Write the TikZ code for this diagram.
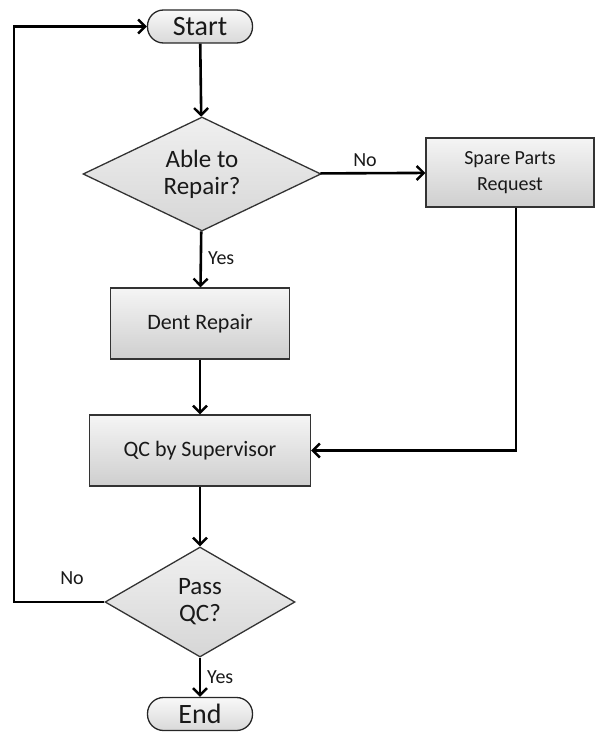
\documentclass[tikz,border=0pt]{standalone}
\usepackage{fontspec}
\setmainfont{Carlito}
\usetikzlibrary{shapes.geometric,arrows.meta,calc}
\begin{document}
\begin{tikzpicture}[x=1pt,y=-1pt,
  every node/.style={text=black!90},
  flow/.style={line width=2.6pt,black,-{Straight Barb[length=7pt,width=14pt,line width=2.4pt]}},
  proc/.style={rectangle,draw=black!80,line width=1.3pt,top color=gray!8,bottom color=gray!38,
    align=center,inner sep=0pt},
  decide/.style={diamond,shape aspect=2,draw=black!80,line width=1.3pt,top color=gray!12,bottom color=gray!32,
    align=center,inner sep=0pt,font=\fontsize{25}{27}\selectfont},
  term/.style={rectangle,rounded corners=16pt,draw=black!85,line width=1.3pt,top color=gray!5,bottom color=gray!30,
    minimum width=105pt,minimum height=33pt,inner sep=0pt,font=\fontsize{28}{30}\selectfont},
  lbl/.style={font=\fontsize{20}{22}\selectfont,inner sep=0pt}
]
\useasboundingbox (0,0) rectangle (595,733);

% shapes
\node[term] (start) at (200,26.5) {Start};
\node[decide,minimum width=238pt,minimum height=114pt] (able) at (202,174) {Able to\\Repair?};
\node[proc,minimum width=168pt,minimum height=69pt,font=\fontsize{20}{26}\selectfont] (spare) at (510,172.5) {Spare Parts\\Request};
\node[proc,minimum width=179pt,minimum height=71pt,font=\fontsize{22}{24}\selectfont] (dent) at (200,323.5) {Dent Repair};
\node[proc,minimum width=221pt,minimum height=71pt,font=\fontsize{22}{24}\selectfont] (qc) at (200,450.5) {QC by Supervisor};
\node[decide,minimum width=190pt,minimum height=110pt] (pass) at (200,602) {Pass\\QC?};
\node[term] (end) at (200,714) {End};

% return path from the final check
\coordinate (loop) at (14,602);

% connectors
\draw[flow] (start) -- (able);
\draw[flow] (able) -- (spare);
\draw[flow] (able) -- (dent);
\draw[flow] (dent) -- (qc);
\draw[flow] ([xshift=6pt]spare.south) |- (qc.east);
\draw[flow] (qc) -- (pass);
\draw[flow] (pass) -- (end);
\draw[flow] (pass.west) -- (loop) |- (start.west);

% branch labels
\node[lbl] (no1) at (365,160) {No};
\node[lbl,anchor=west] (yes1) at (208,258) {Yes};
\node[lbl] (no2) at (72,578) {No};
\node[lbl,anchor=west] (yes2) at (207,677) {Yes};
\end{tikzpicture}
\end{document}
